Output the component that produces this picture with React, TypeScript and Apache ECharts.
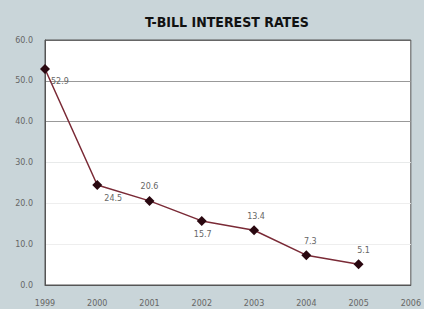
import React, { useEffect, useRef } from "react";
import * as echarts from "echarts";

const years = ["1999", "2000", "2001", "2002", "2003", "2004", "2005", "2006"];
const rates: (number | null)[] = [52.9, 24.5, 20.6, 15.7, 13.4, 7.3, 5.1, null];
const labelPos = ["right", "bottom", "top", "bottom", "top", "top", "top", "top"];
const labelOffsets: [number, number][] = [
  [-4, 13], [16, 0], [0, 0], [1, 0], [2, 0], [4, 0], [5, 0], [0, 0],
];

export default function App() {
  const ref = useRef<HTMLDivElement>(null);
  useEffect(() => {
    if (!ref.current) return;
    const chart = echarts.init(ref.current, undefined, { renderer: "svg" });
    chart.setOption({
      animation: false,
      backgroundColor: "#c9d5d9",
      title: {
        text: "T-BILL INTEREST RATES",
        left: 140,
        top: 10,
        textStyle: {
          fontFamily: "'DejaVu Sans Condensed', 'DejaVu Sans', sans-serif",
          fontWeight: "bold",
          fontSize: 14,
          color: "#111",
        },
      },
      grid: {
        left: 45,
        top: 40,
        width: 373,
        height: 245,
        show: true,
        backgroundColor: "#ffffff",
        borderColor: "#555",
        borderWidth: 1,
      },
      xAxis: {
        type: "category",
        data: years,
        boundaryGap: false,
        axisLine: { show: true, lineStyle: { color: "#555", width: 1 } },
        axisTick: { show: false },
        axisLabel: {
          color: "#666",
          fontSize: 8,
          fontFamily: "DejaVu Sans",
          margin: 14,
        },
        splitLine: { show: false },
      },
      yAxis: {
        type: "value",
        min: 0,
        max: 60,
        interval: 10,
        axisLine: { show: true, lineStyle: { color: "#555", width: 1 } },
        axisTick: { show: false },
        axisLabel: {
          color: "#666",
          fontSize: 8,
          fontFamily: "DejaVu Sans",
          margin: 12,
          formatter: (v: number) => v.toFixed(1),
        },
        splitLine: {
          show: true,
          lineStyle: {
            color: ["#eeeeee", "#eeeeee", "#eeeeee", "#e8eaea", "#999", "#999", "#666"],
            width: 1,
          },
        },
      },
      series: [
        {
          type: "line",
          data: rates.map((v, i) => ({
            value: v,
            label: {
              show: v !== null,
              position: labelPos[i],
              offset: labelOffsets[i],
            },
          })),
          symbol: "diamond",
          symbolSize: 10,
          itemStyle: { color: "#2a0810" },
          lineStyle: { color: "#7a2a36", width: 1.5 },
          label: {
            show: true,
            color: "#666",
            fontSize: 8,
            fontFamily: "DejaVu Sans",
            formatter: (p: any) => (p.value == null ? "" : Number(p.value).toFixed(1)),
          },
        },
      ],
    });
    return () => chart.dispose();
  }, []);
  return <div ref={ref} style={{ width: 424, height: 309, position: "fixed", left: 0, top: 0 }} />;
}
